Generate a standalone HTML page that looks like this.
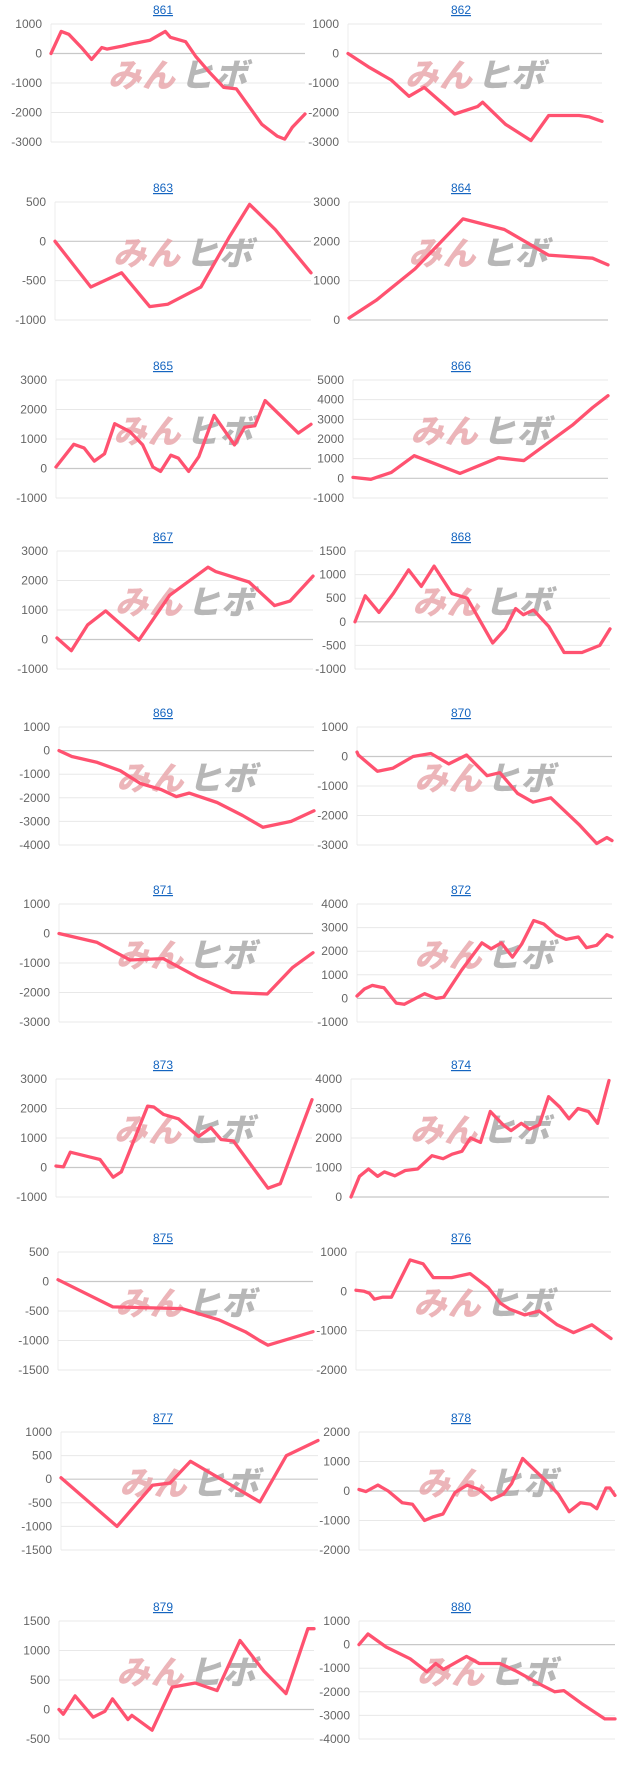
<!DOCTYPE html>
<html><head><meta charset="utf-8">
<style>
html,body{margin:0;padding:0;background:#fff;}
svg{display:block;font-family:"Liberation Sans","Noto Sans CJK JP",sans-serif;}
</style></head>
<body>
<svg id="page" width="629" height="1767" viewBox="0 0 629 1767" xmlns="http://www.w3.org/2000/svg"></svg>
<script>
const chartIds = [861,862,863,864,865,866,867,868,869,870,871,872,873,874,875,876,877,878,879,880];
const tickMax = [1000,1000,500,3000,3000,5000,3000,1500,1000,1000,1000,4000,3000,4000,500,1000,1000,2000,1500,1000];
const tickMin = [-3000,-3000,-1000,0,-1000,-1000,-1000,-1000,-4000,-3000,-3000,-1000,-1000,0,-1500,-2000,-1500,-2000,-500,-4000];
const tickStep = [1000,1000,500,1000,1000,1000,1000,500,1000,1000,1000,1000,1000,1000,500,1000,500,1000,500,1000];
const progress = [
[0,4,7,12,16,20,22,28,33,39,45,47,53,57,62,68,73,78,83,89,92,95,100],
[0,8,17,24,30,42,51,53,62,72,79,91,95,100],
[0,14,26,37,44,57,68,76,86,100],
[0,10.5,25.5,44,60,77,94,100],
[0,7,11,15,19,23,29,34,38,41,45,48,52,56,62,70,74,78,82,95,100],
[0,7,15,24,42,57,67,86,94,100],
[0,5.6,12,19,32,44,59,62,75,85,91,100],
[0,4,9.4,15,21,26,31,38,44,54,59,63,66,70,76,82,89,96,100],
[0,5,15,24,32,40,46,51,62,72,80,91,100],
[0,0.5,8,14,22,29,36,43,51,56,63,69,76,87,94,98,100],
[0,15,28,41,55,68,82,92,100],
[0,2.9,6,10.6,15.4,18.5,26.5,31,34,41,49,52.6,56.6,61,64.6,69.3,73.3,78,82,86.8,90,94,98,100],
[0,2.9,5.6,13.5,17.2,22.3,25.5,35.8,38.2,42,47.8,55.7,60.5,64.5,69.3,82.8,87.6,100],
[0,3.3,6.8,10.3,13,17,21,25.8,31.4,35.7,39.2,43,46.3,50.2,54,58.9,62,66,69.2,73,76.6,80.9,84.5,88,92,95.6,100],
[0,21.5,48.6,63,73.4,79,82.3,100],
[0,3.2,5.3,7.2,10.4,13.9,21.2,26.3,30.3,37.5,44.7,51.8,56.6,60.1,66.2,71.8,78.9,85.3,92.5,100],
[0,21.8,35.6,42.4,50.4,77.4,87.7,100],
[0,2.7,7.4,11.4,16.9,20.9,25.6,28.8,32.8,37.5,42.2,47,51.7,56.5,59.6,63.9,72.3,77.8,82.1,86.5,90.5,92.9,96.5,98,100],
[0,1.7,6.3,13.4,18,21,27,28.6,36.5,44.4,53.4,62,71,80.4,89,97.6,100],
[0,3.5,10.6,20,26.5,30,33,42,47,55,61,71,76.5,80,87,96,100]
];
const values = [
[0,750,650,200,-200,200,150,250,350,450,750,550,400,-100,-600,-1150,-1200,-1800,-2400,-2800,-2900,-2500,-2050],
[0,-450,-900,-1450,-1150,-2050,-1800,-1650,-2400,-2950,-2100,-2100,-2150,-2300],
[0,-580,-400,-830,-800,-580,50,470,150,-400],
[50,500,1300,2570,2300,1650,1570,1400],
[50,820,700,250,500,1520,1250,800,50,-100,450,350,-100,400,1800,800,1400,1450,2300,1200,1500],
[50,-50,300,1150,250,1050,900,2700,3600,4200],
[50,-380,500,970,-20,1500,2450,2300,1950,1150,1300,2150],
[0,550,200,600,1100,750,1180,600,500,-450,-150,280,150,250,-100,-650,-650,-500,-150],
[0,-250,-500,-850,-1400,-1650,-1950,-1800,-2200,-2750,-3250,-3000,-2550],
[150,50,-500,-400,0,100,-250,50,-650,-550,-1250,-1550,-1400,-2300,-2950,-2750,-2850],
[0,-300,-900,-850,-1500,-2000,-2050,-1150,-650],
[100,400,550,450,-200,-250,200,0,50,1200,2350,2100,2350,1750,2300,3300,3150,2700,2500,2600,2150,2250,2700,2600],
[50,20,520,350,270,-330,-150,2080,2050,1800,1650,1050,1350,950,900,-700,-550,2300],
[0,700,950,700,850,720,900,950,1400,1300,1450,1550,2000,1850,2900,2450,2250,2500,2300,2450,3400,3050,2650,3000,2900,2500,3950],
[30,-430,-460,-650,-850,-1000,-1080,-850],
[30,0,-50,-200,-150,-150,800,700,350,350,450,100,-300,-450,-600,-500,-850,-1050,-850,-1200],
[30,-1000,-130,-80,380,-480,500,820],
[50,-20,200,0,-400,-450,-1000,-880,-780,-50,200,50,-300,-100,250,1100,400,-100,-700,-400,-450,-600,100,100,-150],
[0,-80,230,-130,-30,180,-170,-100,-350,380,450,320,1170,650,270,1370,1370],
[0,450,-100,-600,-1150,-800,-1050,-500,-800,-800,-1100,-1700,-2000,-1950,-2500,-3150,-3150]
];

// layout (not data)
const rowTop = [24,202,380,551,727,904,1079,1252,1432,1621];
const plotH = 118;
const leftL = [51,55,56,57,59,59,56,58,61,59], leftR = [305,311,311,313,314,313,312,313,318,314];
const rightL = [348,349,353,355,357,357,351,356,359,359], rightR = [602,608,608,610,612,612,609,611,615,615];
const NS = "http://www.w3.org/2000/svg";
const svg = document.getElementById('page');
function mk(tag, attrs, parent){const e=document.createElementNS(NS,tag);for(const k in attrs)e.setAttribute(k,attrs[k]);(parent||svg).appendChild(e);return e;}

chartIds.forEach((id,i)=>{
  const row = Math.floor(i/2), col = i%2;
  const x0 = col ? rightL[row] : leftL[row];
  const x1 = col ? rightR[row] : leftR[row];
  const top = rowTop[row], bot = top + plotH;
  const yScale = v => top + (tickMax[i]-v)/(tickMax[i]-tickMin[i])*plotH;
  const xScale = p => x0 + p/100*(x1-x0);
  const g = mk('g',{});
  
  

  const t = mk('text',{x: col?461:163, y: top-10, 'text-anchor':'middle','font-size':12, fill:'#1565c0','text-decoration':'underline'}, g);
  t.textContent = id;
  
  

  const ax = mk('line',{x1:x0,x2:x0,y1:top,y2:bot,stroke:'#ececec','stroke-width':1},g);
  
  

  for(let v=tickMax[i]; v>=tickMin[i]; v-=tickStep[i]){
    const y = yScale(v);
    const gl = mk('line',{x1:x0,x2:x1,y1:y,y2:y,stroke: v===0?'#c8c8c8':'#e8e8e8','stroke-width': v===0?1.2:1},g);
    
    
    const tl = mk('text',{x:x0-9,y:y+4,'text-anchor':'end','font-size':12,fill:'#666'},g);
    tl.textContent = v;
    
    
  }

  // watermark
  const cx = (x0+x1)/2, cy = top + 63;
  const wm = mk('text',{x:cx-2,y:cy,'text-anchor':'end','font-size':33,'font-weight':'900','font-style':'italic',fill:'#e7a2a8','fill-opacity':0.8,'letter-spacing':'1'},g);
  wm.textContent = 'みん';
  
  
  const wm2 = mk('text',{x:cx+2,y:cy,'text-anchor':'start','font-size':33,'font-weight':'900','font-style':'italic',fill:'#aaaaaa','fill-opacity':0.85,'letter-spacing':'1'},g);
  wm2.textContent = 'ヒボ';
  
  

  const pts = progress[i].map((p,k)=> xScale(p).toFixed(1)+','+yScale(values[i][k]).toFixed(1)).join(' ');
  const pl = mk('polyline',{points:pts,fill:'none',stroke:'#ff5270','stroke-width':3.3,'stroke-linejoin':'round','stroke-linecap':'round'},g);
  
  
});
</script>
</body></html>
